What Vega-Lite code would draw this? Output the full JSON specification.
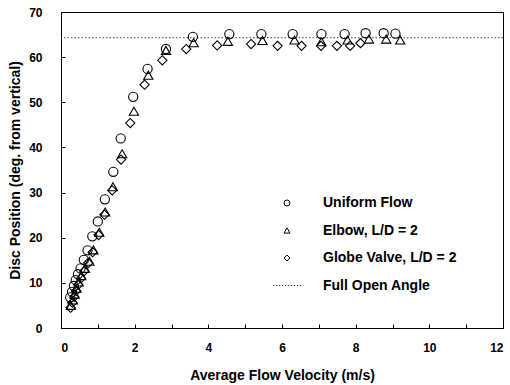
{
  "$schema": "https://vega.github.io/schema/vega-lite/v6.json",
  "width": 442,
  "height": 316,
  "autosize": {"type": "none"},
  "padding": {"left": 61, "top": 12, "right": 7, "bottom": 57},
  "background": "white",
  "config": {
    "font": "Liberation Sans",
    "view": {"stroke": "black", "strokeWidth": 1},
    "axis": {
      "grid": false,
      "domainColor": "black",
      "tickColor": "black",
      "labelFont": "Liberation Sans",
      "labelFontWeight": "bold",
      "labelFontSize": 12,
      "labelColor": "black",
      "titleFont": "Liberation Sans",
      "titleFontWeight": "bold",
      "titleFontSize": 14,
      "titleColor": "black"
    }
  },
  "datasets": {
    "pts": [
      {"series": "Uniform Flow", "v": 0.25, "a": 6.8},
      {"series": "Uniform Flow", "v": 0.30, "a": 8.0},
      {"series": "Uniform Flow", "v": 0.35, "a": 9.3},
      {"series": "Uniform Flow", "v": 0.40, "a": 10.6},
      {"series": "Uniform Flow", "v": 0.46, "a": 11.9},
      {"series": "Uniform Flow", "v": 0.53, "a": 13.2},
      {"series": "Uniform Flow", "v": 0.62, "a": 15.1},
      {"series": "Uniform Flow", "v": 0.72, "a": 17.2},
      {"series": "Uniform Flow", "v": 0.85, "a": 20.3},
      {"series": "Uniform Flow", "v": 1.00, "a": 23.6},
      {"series": "Uniform Flow", "v": 1.19, "a": 28.5},
      {"series": "Uniform Flow", "v": 1.42, "a": 34.6},
      {"series": "Uniform Flow", "v": 1.62, "a": 42.0},
      {"series": "Uniform Flow", "v": 1.96, "a": 51.2},
      {"series": "Uniform Flow", "v": 2.35, "a": 57.4},
      {"series": "Uniform Flow", "v": 2.85, "a": 61.8},
      {"series": "Uniform Flow", "v": 3.58, "a": 64.5},
      {"series": "Uniform Flow", "v": 4.57, "a": 65.1},
      {"series": "Uniform Flow", "v": 5.44, "a": 65.1},
      {"series": "Uniform Flow", "v": 6.29, "a": 65.1},
      {"series": "Uniform Flow", "v": 7.07, "a": 65.1},
      {"series": "Uniform Flow", "v": 7.70, "a": 65.1},
      {"series": "Uniform Flow", "v": 8.27, "a": 65.3},
      {"series": "Uniform Flow", "v": 8.76, "a": 65.3},
      {"series": "Uniform Flow", "v": 9.08, "a": 65.2},
      {"series": "Elbow, L/D = 2", "v": 0.27, "a": 5.0},
      {"series": "Elbow, L/D = 2", "v": 0.32, "a": 6.2},
      {"series": "Elbow, L/D = 2", "v": 0.37, "a": 7.5},
      {"series": "Elbow, L/D = 2", "v": 0.42, "a": 8.8},
      {"series": "Elbow, L/D = 2", "v": 0.48, "a": 10.2},
      {"series": "Elbow, L/D = 2", "v": 0.55, "a": 11.6},
      {"series": "Elbow, L/D = 2", "v": 0.65, "a": 13.2},
      {"series": "Elbow, L/D = 2", "v": 0.77, "a": 14.8},
      {"series": "Elbow, L/D = 2", "v": 0.88, "a": 17.3},
      {"series": "Elbow, L/D = 2", "v": 1.04, "a": 21.2},
      {"series": "Elbow, L/D = 2", "v": 1.20, "a": 25.7},
      {"series": "Elbow, L/D = 2", "v": 1.41, "a": 31.3},
      {"series": "Elbow, L/D = 2", "v": 1.66, "a": 38.6},
      {"series": "Elbow, L/D = 2", "v": 1.98, "a": 48.0},
      {"series": "Elbow, L/D = 2", "v": 2.37, "a": 56.0},
      {"series": "Elbow, L/D = 2", "v": 2.85, "a": 61.5},
      {"series": "Elbow, L/D = 2", "v": 3.60, "a": 63.2},
      {"series": "Elbow, L/D = 2", "v": 4.53, "a": 63.5},
      {"series": "Elbow, L/D = 2", "v": 5.47, "a": 63.7},
      {"series": "Elbow, L/D = 2", "v": 6.34, "a": 63.8},
      {"series": "Elbow, L/D = 2", "v": 7.07, "a": 63.4},
      {"series": "Elbow, L/D = 2", "v": 7.78, "a": 63.8},
      {"series": "Elbow, L/D = 2", "v": 8.36, "a": 64.0},
      {"series": "Elbow, L/D = 2", "v": 8.83, "a": 64.0},
      {"series": "Elbow, L/D = 2", "v": 9.21, "a": 63.8},
      {"series": "Globe Valve, L/D = 2", "v": 0.26, "a": 4.5},
      {"series": "Globe Valve, L/D = 2", "v": 0.31, "a": 5.6},
      {"series": "Globe Valve, L/D = 2", "v": 0.36, "a": 6.9},
      {"series": "Globe Valve, L/D = 2", "v": 0.41, "a": 8.2},
      {"series": "Globe Valve, L/D = 2", "v": 0.47, "a": 9.6},
      {"series": "Globe Valve, L/D = 2", "v": 0.54, "a": 11.0},
      {"series": "Globe Valve, L/D = 2", "v": 0.63, "a": 12.6},
      {"series": "Globe Valve, L/D = 2", "v": 0.74, "a": 14.4},
      {"series": "Globe Valve, L/D = 2", "v": 0.86, "a": 16.8},
      {"series": "Globe Valve, L/D = 2", "v": 1.02, "a": 20.6},
      {"series": "Globe Valve, L/D = 2", "v": 1.18, "a": 25.1},
      {"series": "Globe Valve, L/D = 2", "v": 1.39, "a": 30.5},
      {"series": "Globe Valve, L/D = 2", "v": 1.63, "a": 37.3},
      {"series": "Globe Valve, L/D = 2", "v": 1.88, "a": 45.4},
      {"series": "Globe Valve, L/D = 2", "v": 2.27, "a": 53.9},
      {"series": "Globe Valve, L/D = 2", "v": 2.75, "a": 59.3},
      {"series": "Globe Valve, L/D = 2", "v": 3.40, "a": 61.8},
      {"series": "Globe Valve, L/D = 2", "v": 4.24, "a": 62.6},
      {"series": "Globe Valve, L/D = 2", "v": 5.16, "a": 62.9},
      {"series": "Globe Valve, L/D = 2", "v": 5.88, "a": 62.5},
      {"series": "Globe Valve, L/D = 2", "v": 6.53, "a": 62.5},
      {"series": "Globe Valve, L/D = 2", "v": 7.06, "a": 62.5},
      {"series": "Globe Valve, L/D = 2", "v": 7.49, "a": 62.5},
      {"series": "Globe Valve, L/D = 2", "v": 7.85, "a": 62.5},
      {"series": "Globe Valve, L/D = 2", "v": 8.13, "a": 63.1}
    ],
    "full": [{"a": 64.3}]
  },
  "layer": [
    {
      "data": {"name": "full"},
      "mark": {"type": "rule", "stroke": "#444444", "strokeWidth": 1, "strokeDash": [1.5, 2]},
      "encoding": {"y": {"field": "a", "type": "quantitative"}}
    },
    {
      "data": {"name": "pts"},
      "mark": {"type": "point", "filled": false, "stroke": "black", "strokeWidth": 1.1, "size": 85, "opacity": 1},
      "encoding": {
        "x": {
          "field": "v", "type": "quantitative",
          "scale": {"domain": [0, 12], "nice": false, "zero": true},
          "axis": {
            "title": "Average Flow Velocity (m/s)",
            "values": [0,1,2,3,4,5,6,7,8,9,10,11,12],
            "labelExpr": "datum.value % 2 === 0 ? datum.label : ''",
            "tickSize": -4,
            "labelPadding": 18,
            "titlePadding": 15
          }
        },
        "y": {
          "field": "a", "type": "quantitative",
          "scale": {"domain": [0, 70], "nice": false},
          "axis": {
            "title": "Disc Position (deg. from vertical)",
            "values": [0,5,10,15,20,25,30,35,40,45,50,55,60,65,70],
            "labelExpr": "datum.value % 10 === 0 ? datum.label : ''",
            "tickSize": -4,
            "labelPadding": 23,
            "titlePadding": 6
          }
        },
        "shape": {
          "field": "series", "type": "nominal",
          "scale": {
            "domain": ["Uniform Flow", "Elbow, L/D = 2", "Globe Valve, L/D = 2", "Full Open Angle"],
            "range": ["circle", "triangle-up", "diamond", "M-4.6,0h0.33M-3.6,0h0.33M-2.6,0h0.33M-1.6,0h0.33M-0.6,0h0.33M0.4,0h0.33M1.4,0h0.33M2.4,0h0.33M3.4,0h0.33M4.3,0h0.3"]
          },
          "legend": {
            "title": null,
            "orient": "none",
            "legendX": 219,
            "legendY": 184,
            "rowPadding": 13.5,
            "labelFont": "Liberation Sans",
            "labelFontWeight": "bold",
            "labelFontSize": 14,
            "labelColor": "black",
            "labelOffset": 29,
            "symbolSize": 36,
            "symbolStrokeColor": "black",
            "symbolStrokeWidth": 1,
            "symbolType": "circle"
          }
        }
      }
    }
  ]
}
